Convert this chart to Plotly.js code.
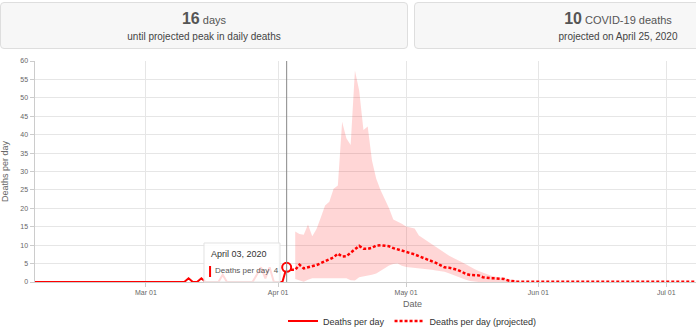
<!DOCTYPE html>
<html>
<head>
<meta charset="utf-8">
<script src="https://cdn.plot.ly/plotly-3.0.1.min.js"></script>
<style>
  html, body { margin: 0; padding: 0; overflow: hidden; background: #fff; }
  #wrap { position: relative; width: 822px; height: 333px; font-family: "Liberation Sans", Arial, sans-serif; }
  #chart { position: absolute; left: 0; top: 0; width: 822px; height: 333px; }
  .card { position: absolute; top: 2px; height: 47px; width: 408px; box-sizing: border-box;
          background: #f7f7f7; border: 1px solid #dedede; border-radius: 4px; text-align: center; color: #555; }
  .card .big { margin-top: 8px; font-size: 11px; line-height: 16px; }
  .card .big b { font-size: 16px; color: #555; }
  .card .sub { font-size: 10px; line-height: 13px; color: #444; margin-top: 2px; }
</style>
</head>
<body>
<div id="wrap">
  <div id="chart"></div>
  <div class="card" style="left:0"><div class="big"><b id="daysNum"></b> days</div><div class="sub">until projected peak in daily deaths</div></div>
  <div class="card" style="left:414px"><div class="big"><b id="peakNum"></b> COVID-19 deaths</div><div class="sub" id="peakDate"></div></div>
</div>
<script>
// Reported daily deaths, one value per day starting 2020-02-04
const observedStart = '2020-02-04';
const observedDeaths = [
  0,0,0,0,0,0,0,0,0,0, 0,0,0,0,0,0,0,0,0,0, 0,0,0,0,0,0,0,0,0,0, 0,0,0,0,0,0,
  1,0,0,1,0,0,0,0,2,0, 0,0,0,0,0,0,2,4,1,4, 0,0,0,4
];

// Projected daily deaths, one value per day starting 2020-04-03
const projectedStart = '2020-04-03';
const projectedDeaths = [
  4.0,3.3,3.3,4.7,3.7,4.0,4.2,4.6,5.1,5.6, 6.2,6.7,7.7,6.9,7.0,7.9,8.9,9.8,9.0,9.0,
  9.3,9.9,10.0,9.9,9.7,9.2,8.9,8.5,8.2,8.0, 7.5,7.0,6.6,6.0,5.7,5.2,4.6,4.0,3.9,3.7,
  3.3,2.8,2.2,1.9,1.9,1.8,1.3,1.1,1.0,1.0, 1.0,0.8,0.4,0.2,
  0.1,0.1,0.1,0.1,0.1,0.1,0.1,0.1,0.1,0.1, 0.1,0.1,0.1,0.1,0.1,0.1,0.1,0.1,0.1,0.1,
  0,0,0,0,0,0,0,0,0,0, 0,0,0,0,0,0,0,0,0,0, 0,0,0,0,0,0,0,0,0,0, 0,0,0,0,0,0,0,0,0,0,
  0,0,0,0,0
];

// Uncertainty interval of the projection, one value per day starting 2020-04-05
const intervalStart = '2020-04-05';
const intervalUpper = [
  13.7,13.0,12.8,15.6,12.4,14.4,17.5,20.8,21.8,25.3, 26.2,43.5,39.0,37.2,57.4,52.0,41.3,42.2,33.0,28.0,
  25.0,22.5,20.0,17.0,16.5,15.8,15.1,14.7,14.5,12.6, 11.8,11.0,10.3,9.4,8.6,7.9,7.2,6.6,6.1,5.4,
  4.8,4.1,3.5,3.0,2.5,2.0,1.7,1.4,1.2,1.0, 0.9,0.6,0.3,0
];
const intervalLower = [
  0.8,0.4,0.1,0.6,1.0,1.0,1.0,1.0,1.0,1.0, 1.0,1.0,1.0,0.5,0.4,1.3,1.5,1.6,2.0,2.3,
  2.9,3.7,4.5,4.9,5.0,4.4,4.1,4.0,3.9,3.8, 3.6,3.4,3.3,3.1,3.0,2.8,2.4,1.9,1.4,1.1,
  0.6,0.3,0.1,0, 0,0,0,0,0,0,0,0,0,0
];

const xRange = ['2020-02-04', '2020-07-30'];
const yRange = [0, 60];
const reportDate = '2020-04-09';
const monthNames = ['January','February','March','April','May','June','July','August','September','October','November','December'];

const DAY = 86400000;
function dailyDates(start, n) {
  const t0 = Date.parse(start + 'T00:00:00Z');
  const out = [];
  for (let i = 0; i < n; i++) out.push(new Date(t0 + i * DAY).toISOString().slice(0, 10));
  return out;
}
function longDate(iso) {
  const d = new Date(iso + 'T00:00:00Z');
  return monthNames[d.getUTCMonth()] + ' ' + String(d.getUTCDate()).padStart(2, '0') + ', ' + d.getUTCFullYear();
}

const obsX = dailyDates(observedStart, observedDeaths.length);
const projX = dailyDates(projectedStart, projectedDeaths.length);
const bandX = dailyDates(intervalStart, intervalUpper.length);

const lastObsX = obsX[obsX.length - 1];
const lastObsY = observedDeaths[observedDeaths.length - 1];

// Summary cards: projected peak and days remaining until it
let peakIdx = 0;
projectedDeaths.forEach((v, i) => { if (v > projectedDeaths[peakIdx]) peakIdx = i; });
const peakX = projX[peakIdx];
document.getElementById('peakNum').textContent = String(Math.round(projectedDeaths[peakIdx]));
document.getElementById('peakDate').textContent = 'projected on ' + longDate(peakX).replace(/ 0(\d),/, ' $1,');
document.getElementById('daysNum').textContent =
  String(Math.round((Date.parse(peakX) - Date.parse(reportDate)) / DAY));

const red = '#ff0000';
const traces = [
  { x: bandX, y: intervalLower, type: 'scatter', mode: 'lines', line: { width: 0 },
    showlegend: false, hoverinfo: 'skip' },
  { x: bandX, y: intervalUpper, type: 'scatter', mode: 'lines', line: { width: 0 },
    fill: 'tonexty', fillcolor: 'rgba(255,0,0,0.16)', showlegend: false, hoverinfo: 'skip' },
  { x: obsX, y: observedDeaths, type: 'scatter', mode: 'lines', name: 'Deaths per day',
    line: { color: red, width: 2 } },
  { x: projX, y: projectedDeaths, type: 'scatter', mode: 'lines', name: 'Deaths per day (projected)',
    line: { color: red, width: 2.5, dash: '3px,2px' } },
  { x: [lastObsX], y: [lastObsY], type: 'scatter', mode: 'markers', showlegend: false,
    marker: { size: 9, color: '#fff', line: { color: red, width: 2 } } }
];

// tooltip box, in paper fractions of the plot area
const tip = { x0: 0.2238, x1: 0.3245, y0: 0.0, y1: 0.1765 };

const layout = {
  width: 822, height: 333,
  margin: { l: 35, r: 32, t: 61, b: 51 },
  paper_bgcolor: '#fff', plot_bgcolor: '#fff',
  font: { family: '"Liberation Sans", Arial, sans-serif', color: '#666' },
  showlegend: true,
  legend: { orientation: 'h', xref: 'paper', x: 0.5, xanchor: 'center',
            yref: 'container', y: 0.036, yanchor: 'middle',
            font: { size: 9, color: '#333' }, itemwidth: 30, traceorder: 'normal' },
  xaxis: {
    type: 'date', range: xRange, tick0: '2020-03-01', dtick: 'M1', tickformat: '%b %d',
    showgrid: true, gridcolor: '#e6e6e6', gridwidth: 1,
    showline: true, linecolor: '#ccc', linewidth: 1,
    ticks: 'outside', ticklen: 4, tickcolor: '#ccc',
    tickfont: { size: 7, color: '#666' }, zeroline: false, automargin: false
  },
  yaxis: {
    range: yRange, dtick: 5, showgrid: true, gridcolor: '#e6e6e6', gridwidth: 1,
    showline: true, linecolor: '#ccc', linewidth: 1.5,
    ticks: 'outside', ticklen: 4, tickcolor: '#ccc',
    tickfont: { size: 7, color: '#666' }, zeroline: false,
    title: { text: 'Deaths per day', font: { size: 9, color: '#666' }, standoff: 10 }, automargin: false
  },
  shapes: [
    { type: 'line', xref: 'x', yref: 'paper', x0: lastObsX, x1: lastObsX, y0: 0, y1: 1,
      line: { color: '#888', width: 1 }, layer: 'above' },
    { type: 'rect', xref: 'paper', yref: 'paper', x0: tip.x0, x1: tip.x1, y0: tip.y0, y1: tip.y1,
      fillcolor: 'rgba(255,255,255,0.85)', line: { color: '#e2e2e2', width: 1 }, layer: 'above' },
    { type: 'rect', xref: 'paper', yref: 'paper', x0: 0.2305, x1: 0.2332, y0: 0.0226, y1: 0.0724,
      fillcolor: red, line: { width: 0 }, layer: 'above' }
  ],
  annotations: [
    // x-axis title
    { xref: 'paper', yref: 'paper', x: 0.5, y: -0.0995, xanchor: 'center', yanchor: 'middle',
      text: 'Date', showarrow: false, font: { size: 9, color: '#666' } },
    // hover tooltip text
    { xref: 'paper', yref: 'paper', x: 0.2305, y: 0.1267, xanchor: 'left', yanchor: 'middle',
      text: longDate(lastObsX), showarrow: false, font: { size: 9, color: '#333' } },
    { xref: 'paper', yref: 'paper', x: 0.2358, y: 0.0498, xanchor: 'left', yanchor: 'middle',
      text: 'Deaths per day  ' + lastObsY, showarrow: false, font: { size: 8, color: '#555' } }
  ]
};

Plotly.newPlot('chart', traces, layout, { staticPlot: true, displayModeBar: false });
</script>
</body>
</html>
